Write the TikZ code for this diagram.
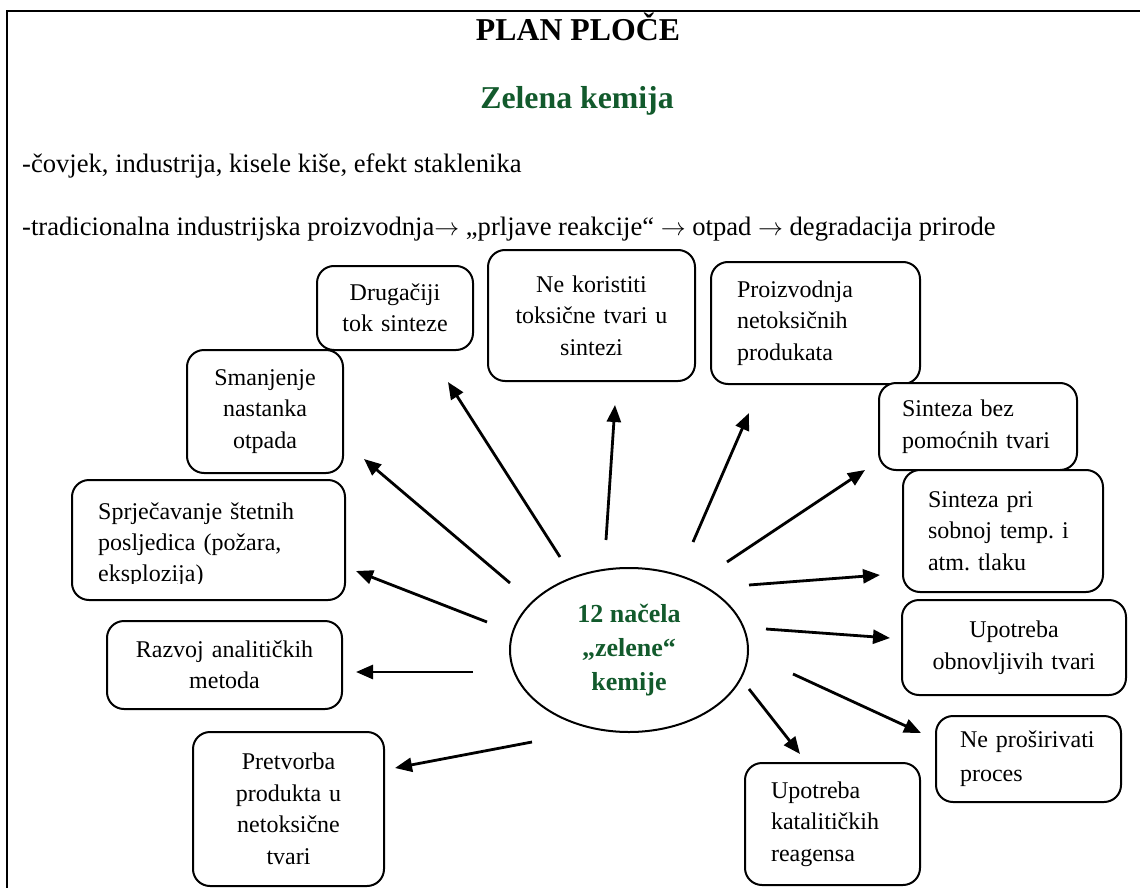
\documentclass[tikz,border=0pt]{standalone}
\usepackage{fontspec}
\setmainfont{Liberation Serif}
\usetikzlibrary{shapes.geometric,arrows.meta}
\definecolor{kgreen}{RGB}{18,90,44}
\newcommand{\rarr}{\ensuremath{\rightarrow}}
\begin{document}
\frenchspacing
\begin{tikzpicture}[x=1pt,y=-1pt,
  box/.style={draw, line width=2pt, rounded corners=17pt, fill=white, inner sep=0pt, font=\fontsize{24}{31.5}\selectfont},
  cbox/.style={box, align=center},
  lbox/.style={box, align=left},
  arr/.style={line width=2.8pt, -{Triangle[length=17pt,width=14pt]}},
  hdr/.style={anchor=base west, inner sep=0pt, font=\fontsize{26.6}{30}\selectfont},
  ttl/.style={anchor=base, inner sep=0pt, font=\fontsize{31.8}{36}\selectfont\bfseries}]

\useasboundingbox (0,0) rectangle (1140,888);
\draw[line width=2.5pt] (1140,11) -- (7,11) -- (7,888);

\node[ttl] (title) at (578,41) {PLAN PLOČE};
\node[ttl, text=kgreen] (sub) at (577,109) {Zelena kemija};
\node[hdr] (l1) at (22,172) {-čovjek, industrija, kisele kiše, efekt staklenika};
\node[hdr] (l2) at (22,235) {-tradicionalna industrijska proizvodnja\rarr{} „prljave reakcije“ \rarr{} otpad \rarr{} degradacija prirode};

\node[cbox, minimum width=156, minimum height=84, text width=150] (b1) at (395,308) {Drugačiji\\tok sinteze};
\node[cbox, minimum width=207, minimum height=131, text width=190] (b2) at (591.5,315.5) {Ne koristiti\\toksične tvari u\\sintezi};
\node[lbox, minimum width=209, minimum height=122, text width=157] (b3) at (815.5,323) {Proizvodnja\\netoksičnih\\produkata};
\node[lbox, minimum width=198, minimum height=87, text width=152] (b4) at (978,426.5) {Sinteza bez\\pomoćnih tvari};
\node[lbox, minimum width=200, minimum height=122, text width=150] (b5) at (1003,531) {Sinteza pri\\sobnoj temp. i\\atm. tlaku};
\node[cbox, minimum width=156, minimum height=123, text width=150] (b6) at (265,411.5) {Smanjenje\\nastanka\\otpada};
\node[box, minimum width=273, minimum height=120] (b7) at (208.5,540) {};
\begin{scope}
  \clip (72,480) rectangle (345,583);
  \node[anchor=north west, inner sep=0pt, align=left, text width=230, font=\fontsize{24}{31}\selectfont] (b7t) at (98,503) {Sprječavanje štetnih\\posljedica (požara,\\eksplozija)};
\end{scope}
\node[cbox, minimum width=235, minimum height=88, text width=225] (b8) at (224.5,665) {Razvoj analitičkih\\metoda};
\node[cbox, minimum width=191, minimum height=154, text width=180] (b9) at (288.5,809) {Pretvorba\\produkta u\\netoksične\\tvari};
\node[cbox, minimum width=224, minimum height=95, text width=210] (b10) at (1014,647.5) {Upotreba\\obnovljivih tvari};
\node[lbox, minimum width=185, minimum height=86, text width=137, font=\fontsize{24}{34}\selectfont] (b11) at (1028.5,759) {Ne proširivati\\proces};
\node[lbox, minimum width=175, minimum height=122, text width=123] (b12) at (832.5,824) {Upotreba\\katalitičkih\\reagensa};

\node[ellipse, draw, line width=2pt, minimum width=238, minimum height=164, inner sep=0pt, align=center, text=kgreen, font=\fontsize{26}{34}\selectfont\bfseries] (c) at (629,650) {12 načela\\„zelene“\\kemije};

\coordinate (s1) at (560,557);  \coordinate (t1) at (448,382);
\coordinate (s2) at (510,583);  \coordinate (t2) at (364,459);
\coordinate (s3) at (487,622);  \coordinate (t3) at (356,571);
\coordinate (s4) at (473,672);  \coordinate (t4) at (356,672);
\coordinate (s5) at (532,742);  \coordinate (t5) at (395,768);
\coordinate (s6) at (606,540);  \coordinate (t6) at (615,405);
\coordinate (s7) at (693,542);  \coordinate (t7) at (749,413);
\coordinate (s8) at (727,562);  \coordinate (t8) at (865,470);
\coordinate (s9) at (749,585);  \coordinate (t9) at (880,575);
\coordinate (s10) at (766,629); \coordinate (t10) at (890,638);
\coordinate (s11) at (793,674); \coordinate (t11) at (921,733);
\coordinate (s12) at (749,689); \coordinate (t12) at (800,754);

\foreach \i in {1,...,12} { \draw[arr] (s\i) -- (t\i); }
\end{tikzpicture}
\end{document}
